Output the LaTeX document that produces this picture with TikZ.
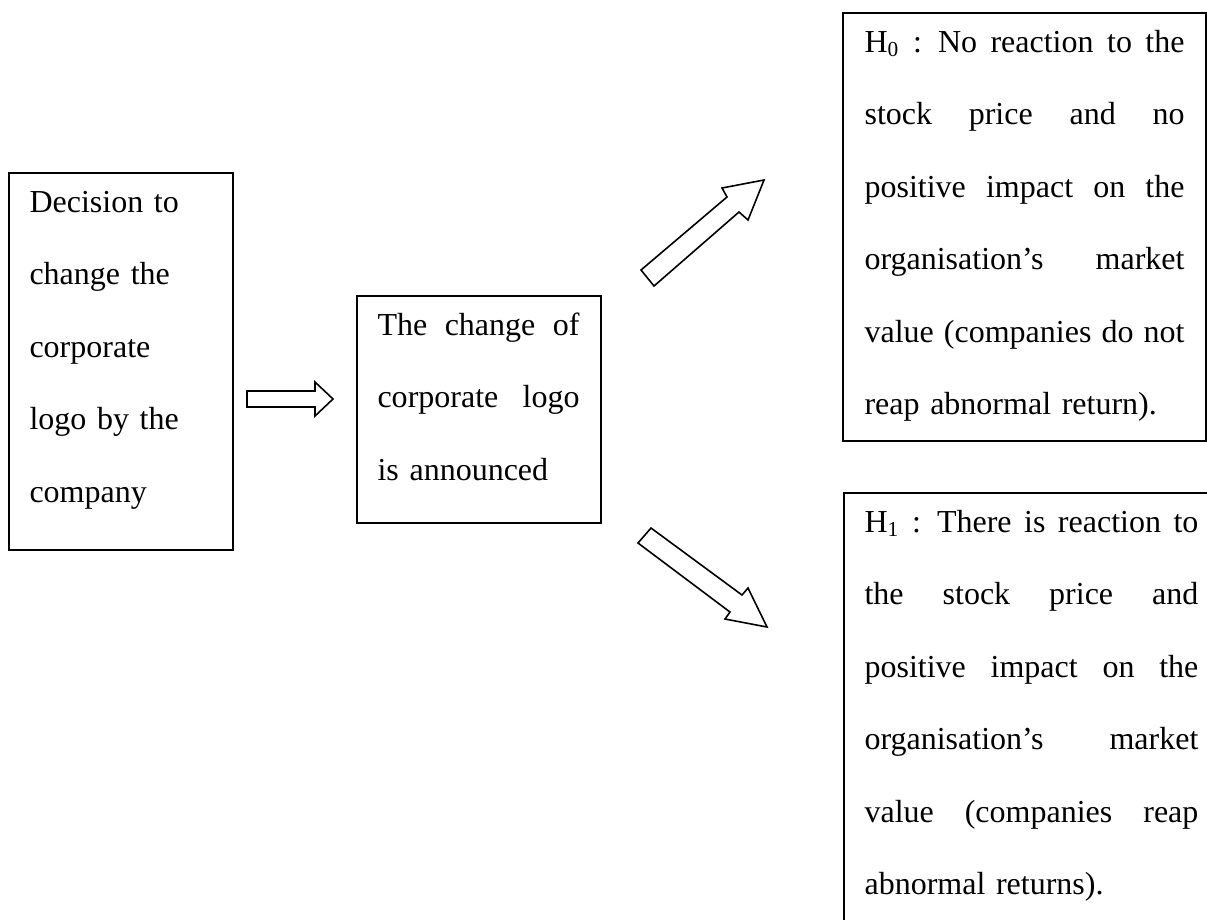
\documentclass[tikz,border=0pt]{standalone}
\usepackage{fontspec}
\setmainfont{Liberation Serif}
\usetikzlibrary{positioning}

\tikzset{
  framebox/.style={draw, line width=0.7pt, inner sep=0pt, anchor=north west},
  boxtext/.style={anchor=base west, inner sep=0pt, align=left,
    font=\fontsize{12}{27.2}\selectfont},
  hollow/.style={draw, line width=0.6pt, fill=white, line join=miter},
}
% a line stretched to the given width (spaces take up the slack)
\newcommand{\fullline}[2][120pt]{\makebox[#1][s]{\spaceskip=0.25em plus 1fil minus 0.05em\relax #2}}

\begin{document}
\begin{tikzpicture}[x=0.375pt, y=-0.375pt]
\useasboundingbox (0,0) rectangle (1207,919);

% decision box
\node[framebox, minimum width=84pt, minimum height=141.4pt] (decision) at (8,172) {};
\node[boxtext, text width=72pt] (decisiontxt) at ([shift={(21,40)}]decision.north west)
  {Decision to\\change the\\corporate\\logo by the\\company};

% announcement box
\node[framebox, minimum width=91.5pt, minimum height=85.1pt] (announce) at (356,295) {};
\node[boxtext, text width=75.75pt] (announcetxt) at ([shift={(21,40)}]announce.north west)
  {\fullline[75.75pt]{The change of}\\\fullline[75.75pt]{corporate logo}\\is announced};

% hypotheses
\node[framebox, minimum width=136.1pt, minimum height=160.5pt] (hzero) at (842,12) {};
\node[boxtext, text width=120pt] (hzerotxt) at ([shift={(22,40)}]hzero.north west)
  {\fullline{H\textsubscript{0} : No reaction to the}\\
   \fullline{stock price and no}\\
   \fullline{positive impact on the}\\
   \fullline{organisation’s market}\\
   \fullline{value (companies do not}\\
   reap abnormal return).};

\node[framebox, minimum width=141.4pt, minimum height=166.1pt] (hone) at (843,492) {};
\node[boxtext, text width=125.2pt] (honetxt) at ([shift={(21,40)}]hone.north west)
  {\fullline[125.2pt]{H\textsubscript{1} : There is reaction to}\\
   \fullline[125.2pt]{the stock price and}\\
   \fullline[125.2pt]{positive impact on the}\\
   \fullline[125.2pt]{organisation’s market}\\
   \fullline[125.2pt]{value (companies reap}\\
   abnormal returns).};

% hollow arrows
\draw[hollow] (247,391) -- (315,391) -- (315,382) -- (333,399) -- (315,416) -- (315,407) -- (247,407) -- cycle;
\draw[hollow] (641,270) -- (727,197) -- (722,188) -- (764,180) -- (748,220) -- (739,212) -- (654,286) -- cycle;
\draw[hollow] (651,528) -- (742,595) -- (748,588) -- (767,627) -- (725,619) -- (730,612) -- (638,543) -- cycle;

\end{tikzpicture}
\end{document}
